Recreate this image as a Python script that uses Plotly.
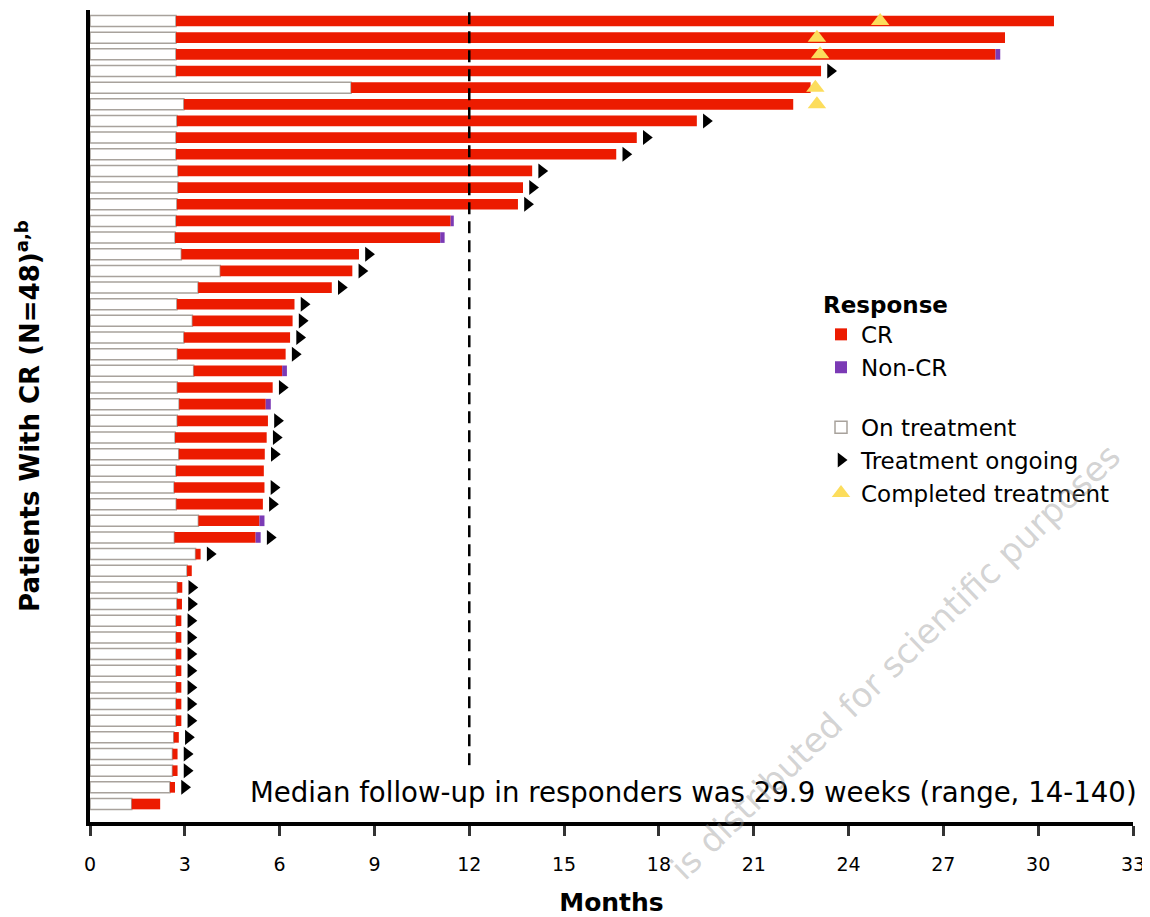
import plotly.graph_objects as go

# ---- data (months) ----
patients = list(range(1, 49))
response_start = [2.72, 2.72, 2.72, 2.72, 8.26, 2.97, 2.75, 2.72, 2.72, 2.78, 2.78, 2.75,
                  2.72, 2.69, 2.89, 4.12, 3.42, 2.75, 3.24, 2.97, 2.76, 3.28, 2.76, 2.82,
                  2.76, 2.69, 2.81, 2.72, 2.66, 2.73, 3.43, 2.67, 3.34, 3.07, 2.76, 2.75,
                  2.72, 2.72, 2.72, 2.72, 2.72, 2.72, 2.72, 2.65, 2.61, 2.61, 2.53, 1.32]
cr_end = [30.5, 28.95, 28.65, 23.13, 22.8, 22.25, 19.2, 17.3, 16.65, 13.99, 13.7, 13.54,
          11.41, 11.08, 8.51, 8.3, 7.65, 6.47, 6.41, 6.33, 6.19, 6.08, 5.78, 5.56,
          5.63, 5.59, 5.53, 5.50, 5.52, 5.47, 5.36, 5.24, 3.50, 3.22, 2.92, 2.91,
          2.89, 2.89, 2.89, 2.89, 2.89, 2.89, 2.89, 2.81, 2.77, 2.77, 2.69, 2.22]
non_cr_end = [None, None, 28.8, None, None, None, None, None, None, None, None, None,
              11.51, 11.22, None, None, None, None, None, None, None, 6.23, None, 5.72,
              None, None, None, None, None, None, 5.52, 5.40, None, None, None, None,
              None, None, None, None, None, None, None, None, None, None, None, None]
ongoing = [0, 0, 0, 1, 0, 0, 1, 1, 1, 1, 1, 1,
           0, 0, 1, 1, 1, 1, 1, 1, 1, 0, 1, 0,
           1, 1, 1, 0, 1, 1, 0, 1, 1, 0, 1, 1,
           1, 1, 1, 1, 1, 1, 1, 1, 1, 1, 1, 0]
completed_at = [25.0, 23.0, 23.1, None, 22.95, 23.0] + [None] * 42
x_ticks = list(range(0, 34, 3))

RED = "#EC1B00"
PURPLE = "#7B3AB5"
GREY = "#A8A29C"
YELLOW = "#FCDD5C"
FONT = "DejaVu Sans, Liberation Sans, Arial, sans-serif"

fig = go.Figure()

# On treatment (open bar)
fig.add_trace(go.Bar(
    y=patients, x=response_start, base=0, orientation="h", width=0.66,
    marker=dict(color="white", line=dict(color=GREY, width=1.5)),
    name="On treatment", legendgroup="g2", legendrank=3,
))
# CR segment
fig.add_trace(go.Bar(
    y=patients, x=[e - s for s, e in zip(response_start, cr_end)], base=response_start,
    orientation="h", width=0.64, marker=dict(color=RED, line=dict(width=0)),
    name="CR", legendgroup="g1", legendrank=1,
))
# Non-CR segment
nc_y = [p for p, n in zip(patients, non_cr_end) if n is not None]
nc_base = [c for c, n in zip(cr_end, non_cr_end) if n is not None]
nc_len = [n - c for c, n in zip(cr_end, non_cr_end) if n is not None]
fig.add_trace(go.Bar(
    y=nc_y, x=nc_len, base=nc_base, orientation="h", width=0.64,
    marker=dict(color=PURPLE, line=dict(width=0)),
    name="Non-CR", legendgroup="g1", legendrank=2,
))

# Treatment ongoing markers (just right of the last bar end)
final_end = [n if n is not None else c for c, n in zip(cr_end, non_cr_end)]
og_y = [p for p, o in zip(patients, ongoing) if o]
og_x = [f + 0.3 for f, o in zip(final_end, ongoing) if o]
fig.add_trace(go.Scatter(
    x=og_x, y=og_y, mode="markers",
    marker=dict(symbol="triangle-right", size=13, color="black"),
    name="Treatment ongoing", legendgroup="g2", legendrank=4,
))
# Completed treatment markers
ct_y = [p for p, c in zip(patients, completed_at) if c is not None]
ct_x = [c for c in completed_at if c is not None]
fig.add_trace(go.Scatter(
    x=ct_x, y=ct_y, mode="markers",
    marker=dict(symbol="triangle-up", size=16, color=YELLOW),
    name="Completed treatment", legendgroup="g2", legendrank=5,
))

# 12-month reference line
fig.add_shape(type="line", xref="x", yref="paper", x0=12, x1=12, y0=0.07, y1=1.0,
              line=dict(color="black", width=2.5, dash="12px,7px"))

fig.add_annotation(
    text="Median follow-up in responders was 29.9 weeks (range, 14-140)",
    xref="paper", yref="paper", x=1.006, y=0.036, xanchor="right", yanchor="middle",
    showarrow=False, font=dict(family=FONT, size=27.6, color="black"),
)

fig.add_annotation(
    text="is distributed for scientific purposes",
    xref="paper", yref="paper", x=(895 - 90) / 1043, y=(822 - 662) / 812,
    xanchor="center", yanchor="middle", textangle=-44, showarrow=False,
    font=dict(family=FONT, size=34, color="rgba(150,150,150,0.42)"),
)

# the page body adds an 8px offset, so the figure is 8px smaller with shifted margins
fig.update_layout(
    width=1142, height=909,
    margin=dict(l=82, r=17, t=2, b=95),
    plot_bgcolor="white", paper_bgcolor="white",
    barmode="overlay",
    font=dict(family=FONT, color="black"),
    legend=dict(
        x=(821 - 90) / 1043, y=(822 - 283) / 812, xanchor="left", yanchor="top",
        font=dict(family=FONT, size=23, color="black"),
        title=dict(text="<b>Response</b>", font=dict(family=FONT, size=23)),
        traceorder="grouped", tracegroupgap=27, bgcolor="rgba(0,0,0,0)",
    ),
    xaxis=dict(
        range=[0, 33], tickvals=x_ticks, ticktext=[str(t) for t in x_ticks],
        ticks="outside", ticklen=10, tickwidth=2.5, tickcolor="#333",
        showline=True, linewidth=4, linecolor="black", showgrid=False, zeroline=False,
        tickfont=dict(family=FONT, size=19), ticklabelstandoff=12, automargin=False,
        title=dict(text="<b>Months</b>", font=dict(family=FONT, size=25), standoff=22),
    ),
    yaxis=dict(
        range=[49.08, 0.34], showticklabels=False, ticks="", showgrid=False,
        zeroline=False, showline=True, linewidth=4, linecolor="black", automargin=False,
        title=dict(text="<b>Patients With CR (N=48)<sup>a,b</sup></b>",
                   font=dict(family=FONT, size=26), standoff=40),
    ),
)

fig.write_html("out.html")
